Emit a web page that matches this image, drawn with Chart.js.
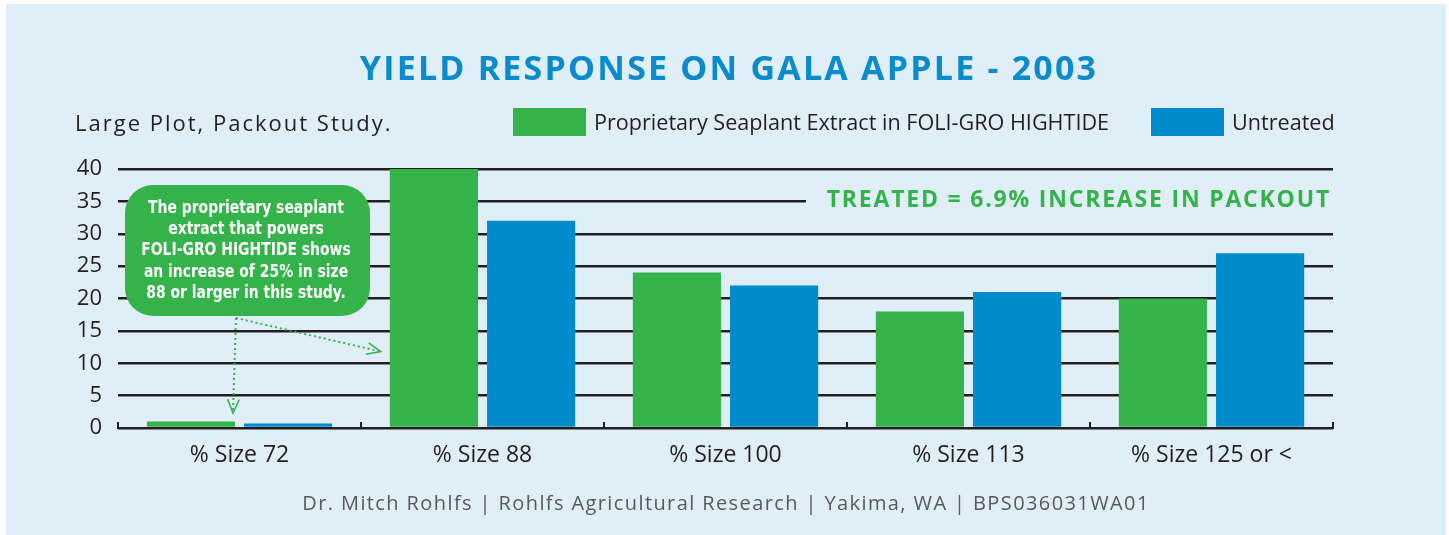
<!DOCTYPE html>
<html>
<head>
<meta charset="utf-8">
<script src="https://cdn.jsdelivr.net/npm/chart.js@4"></script>
<style>
  html, body { margin: 0; padding: 0; background: #ffffff; }
  #wrap { position: relative; width: 1449px; height: 535px; }
</style>
</head>
<body>
<div id="wrap"><canvas id="c" width="1449" height="535"></canvas></div>
<script>
const categories = ["% Size 72", "% Size 88", "% Size 100", "% Size 113", "% Size 125 or <"];
const treatedValues = [1.0, 40, 24, 18, 20];
const untreatedValues = [0.7, 32, 22, 21, 27];
const seriesNames = ["Proprietary Seaplant Extract in FOLI-GRO HIGHTIDE", "Untreated"];
const yTicks = [0, 5, 10, 15, 20, 25, 30, 35, 40];
const titleText = "YIELD RESPONSE ON GALA APPLE - 2003";
const subtitleText = "Large Plot, Packout Study.";
const highlightText = "TREATED = 6.9% INCREASE IN PACKOUT";
const calloutLines = ["The proprietary seaplant", "extract that powers", "FOLI-GRO HIGHTIDE shows", "an increase of 25% in size", "88 or larger in this study."];
const footerText = "Dr. Mitch Rohlfs | Rohlfs Agricultural Research | Yakima, WA | BPS036031WA01";

const GREEN = "#33b34a";
const BLUE = "#008bcc";
const PANEL = "#e0eef8";
const DARK = "#231f20";

const decor = {
  id: "decor",
  beforeDraw(chart) {
    const ctx = chart.ctx;
    ctx.save();
    ctx.fillStyle = "#ffffff";
    ctx.fillRect(0, 0, chart.width, chart.height);
    ctx.fillStyle = PANEL;
    ctx.fillRect(6, 4, 1440, 531);
    // title
    ctx.fillStyle = "#0a8bcc";
    ctx.font = "bold 34px 'Open Sans'";
    ctx.letterSpacing = "2.2px";
    ctx.textAlign = "center";
    ctx.textBaseline = "middle";
    ctx.fillText(titleText, 729, 70);
    // subtitle
    ctx.fillStyle = DARK;
    ctx.font = "22px 'Open Sans'";
    ctx.letterSpacing = "2px";
    ctx.textAlign = "left";
    ctx.fillText(subtitleText, 75, 125);
    // legend
    ctx.letterSpacing = "0px";
    const ds = chart.data.datasets;
    const legendX = [513, 1151];
    ctx.font = "21.6px 'Open Sans'";
    ds.forEach((d, i) => {
      ctx.fillStyle = d.backgroundColor;
      ctx.fillRect(legendX[i], 108, 73, 28);
      ctx.fillStyle = DARK;
      ctx.fillText(d.label, legendX[i] + 81, 124);
    });
    // footer
    ctx.fillStyle = "#58595b";
    ctx.font = "20px 'Open Sans'";
    ctx.letterSpacing = "1.4px";
    ctx.textAlign = "center";
    ctx.fillText(footerText, 726, 504);
    ctx.restore();
  },
  afterDatasetsDraw(chart) {
    const ctx = chart.ctx;
    const ys = chart.scales.y;
    const area = chart.chartArea;
    ctx.save();
    // category boundary ticks pointing up
    ctx.strokeStyle = DARK;
    ctx.lineWidth = 2;
    const n = categories.length;
    const step = (area.right - area.left) / n;
    for (let i = 0; i <= n; i++) {
      const x = Math.round(area.left + i * step);
      ctx.beginPath();
      ctx.moveTo(x, area.bottom);
      ctx.lineTo(x, area.bottom - 6);
      ctx.stroke();
    }
    // highlight text with background mask
    const hy = ys.getPixelForValue(35);
    ctx.fillStyle = PANEL;
    ctx.fillRect(806, hy - 14, area.right - 806 + 4, 28);
    ctx.fillStyle = GREEN;
    ctx.font = "bold 23px 'Open Sans'";
    ctx.letterSpacing = "1.8px";
    ctx.textAlign = "right";
    ctx.textBaseline = "middle";
    ctx.fillText(highlightText, 1331, hy - 1);
    // callout box
    ctx.letterSpacing = "0px";
    ctx.fillStyle = GREEN;
    ctx.beginPath();
    ctx.roundRect(125, 185, 245, 131, 28);
    ctx.fill();
    ctx.fillStyle = "#ffffff";
    ctx.font = "bold 18px 'DejaVu Sans Condensed', 'Open Sans', sans-serif";
    ctx.textAlign = "center";
    ctx.save();
    ctx.translate(246, 0);
    ctx.scale(0.86, 1);
    calloutLines.forEach((l, i) => ctx.fillText(l, 0, 208 + i * 21.4));
    ctx.restore();
    // dotted arrows
    const m0 = chart.getDatasetMeta(0);
    const b0 = m0.data[0], b1 = m0.data[1];
    const sx = 236, sy = 318;
    const t1x = b0.x + b0.width / 2 - 2, t1y = ys.getPixelForValue(2.3);
    const t2x = b1.x - b1.width / 2 - 9, t2y = ys.getPixelForValue(11.8);
    ctx.strokeStyle = GREEN;
    ctx.lineWidth = 2;
    ctx.setLineDash([2, 3]);
    ctx.beginPath(); ctx.moveTo(sx, sy); ctx.lineTo(t1x, t1y); ctx.stroke();
    ctx.beginPath(); ctx.moveTo(sx, sy); ctx.lineTo(t2x, t2y); ctx.stroke();
    ctx.setLineDash([]);
    ctx.lineWidth = 1.5;
    function head(fx, fy, tx, ty) {
      const a = Math.atan2(ty - fy, tx - fx);
      const L = 15, w = 0.4;
      ctx.beginPath();
      ctx.moveTo(tx - L * Math.cos(a - w), ty - L * Math.sin(a - w));
      ctx.lineTo(tx, ty);
      ctx.lineTo(tx - L * Math.cos(a + w), ty - L * Math.sin(a + w));
      ctx.stroke();
    }
    head(sx, sy, t1x, t1y);
    head(sx, sy, t2x, t2y);
    ctx.restore();
  }
};

new Chart(document.getElementById("c"), {
  type: "bar",
  data: {
    labels: categories,
    datasets: [
      { label: seriesNames[0], data: treatedValues, backgroundColor: GREEN },
      { label: seriesNames[1], data: untreatedValues, backgroundColor: BLUE }
    ]
  },
  options: {
    responsive: false,
    animation: false,
    categoryPercentage: 0.8,
    barPercentage: 0.907,
    layout: { padding: { left: 0, top: 169, right: 116, bottom: 57 } },
    plugins: { legend: { display: false }, title: { display: false }, tooltip: { enabled: false } },
    scales: {
      x: {
        grid: { display: false, drawTicks: false },
        border: { display: true, color: DARK, width: 2 },
        ticks: { color: DARK, font: { family: "'Open Sans'", size: 23 }, padding: 14 },
        afterFit(s) { s.height = 50; }
      },
      y: {
        min: 0, max: 40,
        afterBuildTicks(s) { s.ticks = yTicks.map(v => ({ value: v })); },
        grid: { color: DARK, lineWidth: 2.5, drawTicks: false },
        border: { display: false },
        ticks: { color: DARK, font: { family: "'Open Sans'", size: 22 }, padding: 16 },
        afterFit(s) { s.width = 118; }
      }
    }
  },
  plugins: [decor]
});
</script>
</body>
</html>
